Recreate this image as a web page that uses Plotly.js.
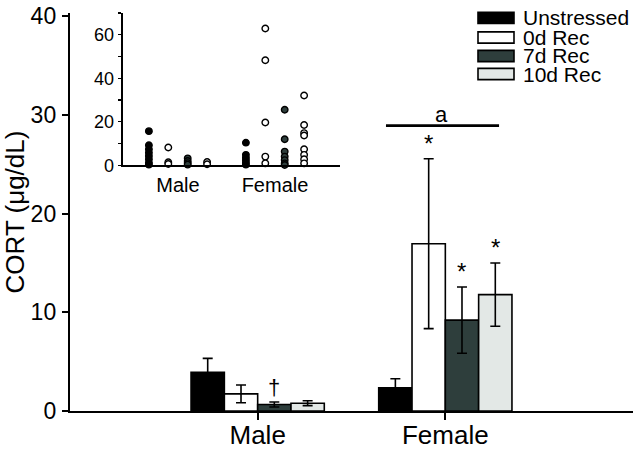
<!DOCTYPE html>
<html>
<head>
<meta charset="utf-8">
<script src="https://cdn.plot.ly/plotly-3.0.1.min.js"></script>
<style>html,body{margin:0;padding:0;background:#fff;}#chart{width:641px;height:450px;}</style>
</head>
<body>
<div id="chart"></div>
<script>
// ---------- data ----------
const categories = ['Male', 'Female'];
const seriesNames = ['Unstressed', '0d Rec', '7d Rec', '10d Rec'];

// main bar chart: means and SEM (µg/dL)
const unstressedMean = [3.93, 2.36];
const unstressedErr  = [1.40, 0.90];
const rec0Mean = [1.73, 16.94];
const rec0Err  = [0.90, 8.60];
const rec7Mean = [0.66, 9.20];
const rec7Err  = [0.25, 3.35];
const rec10Mean = [0.79, 11.78];
const rec10Err  = [0.25, 3.20];

// inset: individual values
const unstressedMalePts = [15.7, 9.2, 7.4, 5.8, 4.3, 2.8, 1.2, 0.3];
const unstressedFemalePts = [10.4, 4.8, 3.5, 2.3, 1.2, 0.3];
const rec0MalePts = [8.2, 1.4, 0.6];
const rec0FemalePts = [62.9, 48.3, 19.7, 4.0, 0.9];
const rec7MalePts = [3.2, 2.0, 1.0, 0.3];
const rec7FemalePts = [25.5, 12.0, 6.3, 4.0, 2.4, 0.9, 0.15];
const rec10MalePts = [1.5, 0.5];
const rec10FemalePts = [32.1, 18.5, 14.8, 13.7, 7.4, 4.8, 2.8, 0.9];

// significance marks: [seriesIndex, categoryIndex, symbol]
const marks = [[2, 0, '†'], [1, 1, '*'], [2, 1, '*'], [3, 1, '*']];
const sigLabel = 'a';
const sigLineValue = 28.9;

// ---------- styles ----------
const fills = ['#000000', '#ffffff', '#2e3e3c', '#e3e8e6'];
const FONT = '"Liberation Sans", Arial, Helvetica, sans-serif';
const W = 641, H = 450;
const M = {l: 70, r: 8, t: 13, b: 39};
const PW = W - M.l - M.r, PH = H - M.t - M.b;
const px2x = p => (p - M.l) / PW;
const py2y = p => (H - M.b - p) / PH;
const BARGAP = 0.29;
const slot = (1 - BARGAP) / 4;

const means = [unstressedMean, rec0Mean, rec7Mean, rec10Mean];
const errs = [unstressedErr, rec0Err, rec7Err, rec10Err];
const malePts = [unstressedMalePts, rec0MalePts, rec7MalePts, rec10MalePts];
const femalePts = [unstressedFemalePts, rec0FemalePts, rec7FemalePts, rec10FemalePts];

const traces = [];
seriesNames.forEach((name, i) => {
  traces.push({
    type: 'bar', name: name, x: categories, y: means[i],
    marker: {color: fills[i], line: {color: '#000', width: 1.6}},
    error_y: {type: 'data', array: errs[i], visible: true, color: '#000', thickness: 1.6, width: 5},
    showlegend: false, xaxis: 'x', yaxis: 'y'
  });
});
seriesNames.forEach((name, i) => {
  const xs = [], ys = [];
  malePts[i].forEach(v => { xs.push(categories[0]); ys.push(v); });
  femalePts[i].forEach(v => { xs.push(categories[1]); ys.push(v); });
  const filled = (i === 0 || i === 2);
  traces.push({
    type: 'scatter', mode: 'markers', name: name + ' pts', x: xs, y: ys,
    offsetgroup: 'g' + i, alignmentgroup: 'inset',
    marker: {size: 6.5, color: filled ? fills[i] : '#ffffff', line: {color: '#000', width: 1.4}},
    showlegend: false, xaxis: 'x2', yaxis: 'y2', cliponaxis: false
  });
});

const annotations = [];
const shapes = [];
marks.forEach(([s, c, sym]) => {
  annotations.push({
    xref: 'x', yref: 'y', x: c + (s - 1.5) * slot, y: means[s][c] + errs[s][c],
    text: sym, showarrow: false, yanchor: 'bottom', xanchor: 'center',
    yshift: sym === '*' ? 0 : 0,
    font: {family: FONT, size: sym === '*' ? 24 : 22, color: '#000000'}
  });
});
// significance line over female group
shapes.push({type: 'line', xref: 'x', yref: 'y', x0: 1 - 1.5 * slot - 0.05, x1: 1 + 1.5 * slot + 0.02,
  y0: sigLineValue, y1: sigLineValue, line: {color: '#000', width: 2.8}});
annotations.push({xref: 'x', yref: 'y', x: 1 - 0.02, y: sigLineValue, text: sigLabel, showarrow: false,
  yanchor: 'bottom', yshift: -3, font: {family: FONT, size: 22, color: '#000'}});

// manual legend
const legRows = [17.9, 37.5, 56, 74];
seriesNames.forEach((name, i) => {
  shapes.push({type: 'rect', xref: 'paper', yref: 'paper', x0: px2x(478), x1: px2x(514),
    y0: py2y(legRows[i] + 5.6), y1: py2y(legRows[i] - 5.6), fillcolor: fills[i],
    line: {color: '#000', width: 1.6}});
  annotations.push({xref: 'paper', yref: 'paper', x: px2x(522), y: py2y(legRows[i]), text: name,
    showarrow: false, xanchor: 'left', yanchor: 'middle', borderpad: 0,
    font: {family: FONT, size: 21, color: '#000'}});
});

const layout = {
  width: W, height: H, margin: M, paper_bgcolor: '#fff', plot_bgcolor: 'rgba(0,0,0,0)',
  font: {family: FONT, color: '#000'},
  barmode: 'group', bargap: BARGAP, bargroupgap: 0,
  scattermode: 'group', scattergap: 0.2,
  showlegend: false,
  xaxis: {type: 'category', range: [-1, 2], showline: true, linecolor: '#000', linewidth: 2.2,
    ticks: 'outside', ticklen: 7, tickwidth: 2, tickcolor: '#000', showgrid: false, zeroline: false,
    tickfont: {family: FONT, size: 26, color: '#000'}, ticklabelstandoff: -7, fixedrange: true},
  yaxis: {range: [0, 40 * PH / (PH - 3)], tickvals: [0, 10, 20, 30, 40], showline: true, linecolor: '#000',
    linewidth: 2.2, ticks: 'outside', ticklen: 6, tickwidth: 2, tickcolor: '#000', showgrid: false,
    zeroline: false, tickfont: {family: FONT, size: 23, color: '#000'}, ticklabelstandoff: 1,
    title: {text: 'CORT (μg/dL)', font: {family: FONT, size: 26, color: '#000'}, standoff: 6}},
  xaxis2: {type: 'category', anchor: 'y2', domain: [px2x(122.7), px2x(340)], range: [-0.57, 1.67],
    showline: true, linecolor: '#000', linewidth: 1.5, ticks: '', showgrid: false, zeroline: false,
    tickfont: {family: FONT, size: 20, color: '#000'}, ticklabelstandoff: 1},
  yaxis2: {anchor: 'x2', domain: [py2y(165.3), 1], range: [0, 70],
    tickvals: [0, 10, 20, 30, 40, 50, 60, 70], ticktext: ['0', '', '20', '', '40', '', '60', ''],
    showline: true, linecolor: '#000', linewidth: 1.5, ticks: 'outside', ticklen: 3.5, tickwidth: 1.3,
    tickcolor: '#000', showgrid: false, zeroline: false,
    tickfont: {family: FONT, size: 18, color: '#000'}, ticklabelstandoff: 0},
  shapes: shapes, annotations: annotations
};

Plotly.newPlot('chart', traces, layout, {staticPlot: true, displayModeBar: false});
</script>
</body>
</html>
